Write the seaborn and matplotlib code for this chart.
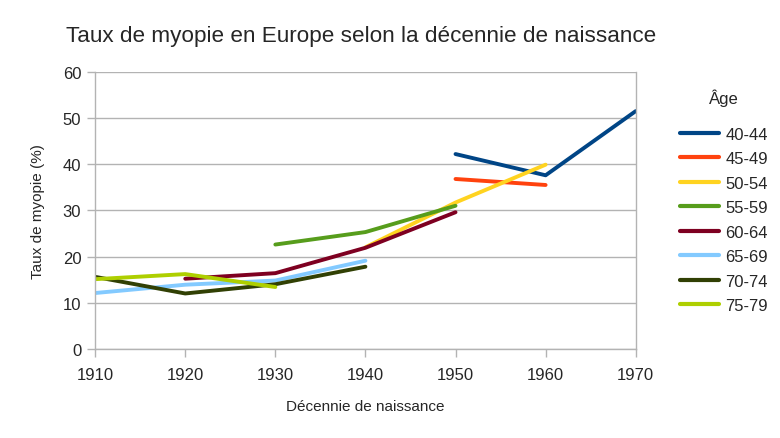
import numpy as np
import pandas as pd
import matplotlib
matplotlib.use('Agg')
import matplotlib.pyplot as plt
import seaborn as sns

# Décennie de naissance
decades = [1910, 1920, 1930, 1940, 1950, 1960, 1970]

# Taux de myopie (%) par tranche d'âge (None = pas de donnée)
age_groups = ['40-44', '45-49', '50-54', '55-59', '60-64', '65-69', '70-74', '75-79']
rate_40_44 = [None, None, None, None, 42.2, 37.6, 51.5]
rate_45_49 = [None, None, None, None, 36.8, 35.5, None]
rate_50_54 = [None, None, None, 22.0, 31.7, 39.9, None]
rate_55_59 = [None, None, 22.6, 25.3, 31.0, None, None]
rate_60_64 = [None, 15.2, 16.4, 21.9, 29.6, None, None]
rate_65_69 = [12.1, 13.9, 14.8, 19.1, None, None, None]
rate_70_74 = [15.6, 12.0, 14.0, 17.8, None, None, None]
rate_75_79 = [15.1, 16.2, 13.4, None, None, None, None]

colors = ['#004586', '#ff420e', '#ffd320', '#579d1c',
          '#7e0021', '#83caff', '#314004', '#aecf00']


def build_frame() -> pd.DataFrame:
    series = [rate_40_44, rate_45_49, rate_50_54, rate_55_59,
              rate_60_64, rate_65_69, rate_70_74, rate_75_79]
    rows = []
    for age, values in zip(age_groups, series):
        for year, v in zip(decades, values):
            if v is not None:
                rows.append({'decade': year, 'rate': v, 'age': age})
    return pd.DataFrame(rows)


def main() -> None:
    df = build_frame()

    sns.set_style('white')
    plt.rcParams['font.family'] = ['Liberation Sans', 'DejaVu Sans']

    fig = plt.figure(figsize=(7.8, 4.39), dpi=100)
    ax = fig.add_axes([0.122, 0.203, 0.693, 0.631])

    sns.lineplot(data=df, x='decade', y='rate', hue='age', hue_order=age_groups,
                 palette=colors, linewidth=2.8, ax=ax, legend=True,
                 estimator=None, sort=True)

    ax.set_xlim(1910, 1970)
    ax.set_ylim(0, 60)
    ax.set_xticks(decades)
    ax.set_yticks(range(0, 61, 10))
    ax.yaxis.grid(True, color='#b3b3b3', linewidth=1)
    ax.xaxis.grid(False)
    for side in ['left', 'bottom', 'right']:
        ax.spines[side].set_color('#b3b3b3')
        ax.spines[side].set_linewidth(1)
    ax.spines['top'].set_visible(False)
    ax.tick_params(axis='both', which='both', length=6, width=1, color='#b3b3b3',
                   labelsize=12, direction='out', left=True, bottom=True)
    ax.tick_params(axis='x', pad=7)
    ax.tick_params(axis='y', pad=4)

    ax.set_xlabel('Décennie de naissance', fontsize=11, labelpad=12)
    ax.set_ylabel('Taux de myopie (%)', fontsize=11, labelpad=13)

    fig.text(0.463, 0.916, 'Taux de myopie en Europe selon la décennie de naissance',
             ha='center', va='center', fontsize=16.2)

    handles, labels = ax.get_legend_handles_labels()
    ax.legend(handles, labels, title='Âge', loc='upper left',
              bbox_to_anchor=(1.07, 0.965), frameon=False, fontsize=12,
              title_fontsize=12, handlelength=2.35, handletextpad=0.35,
              labelspacing=0.57, borderaxespad=0)
    leg = ax.get_legend()
    leg._legend_box.sep = 15
    for line in leg.get_lines():
        line.set_linewidth(3)

    fig.savefig('out.png', dpi=100, facecolor='white')
    plt.close(fig)


if __name__ == '__main__':
    main()
